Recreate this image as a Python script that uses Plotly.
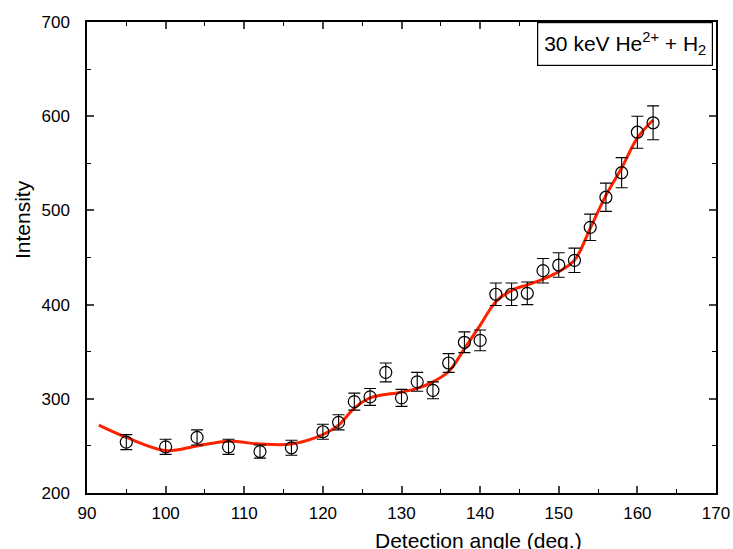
import plotly.graph_objects as go

angle = [95, 100, 104, 108, 112, 116, 120, 122, 124, 126, 128, 130, 132, 134,
         136, 138, 140, 142, 144, 146, 148, 150, 152, 154, 156, 158, 160, 162]
intensity = [254, 249, 259, 249, 244, 248, 265, 275, 297, 302, 328, 301, 318, 309,
             338, 360, 362, 411, 411, 412, 436, 442, 447, 482, 514, 540, 583, 593]
err = [8, 8, 8, 8, 7, 8, 8, 8, 9, 9, 10, 9, 10, 9,
       10, 11, 11, 12, 12, 12, 13, 13, 13, 14, 15, 16, 17, 18]

fit_x = [91.5, 95, 100, 104, 108, 112, 116, 120, 122, 124, 126, 130, 132, 134,
         136, 138, 140, 142, 144, 146, 148, 150, 152, 154, 156, 158, 160, 162]
fit_y = [272, 259, 245, 250, 255, 252, 252, 262, 272, 290, 301, 307, 311, 318,
         329, 353, 378, 403, 415, 421, 427, 435, 447, 481, 516, 545, 577, 596]

FONT = "Liberation Sans, Arial, sans-serif"

fig = go.Figure()
fig.add_trace(go.Scatter(
    x=fit_x, y=fit_y, mode="lines", line=dict(color="#ff2200", width=3, shape="spline", smoothing=1.0),
    hoverinfo="skip"))
fig.add_trace(go.Scatter(
    x=angle, y=intensity, mode="markers",
    marker=dict(symbol="circle-open", size=12, color="black", line=dict(width=1.2, color="black")),
    error_y=dict(type="data", array=err, visible=True, color="black", thickness=1.1, width=6)))

axis_font = dict(family=FONT, size=17, color="black")
fig.update_xaxes(range=[90, 170], dtick=10, tick0=90, ticks="inside", ticklen=7, tickwidth=1.5,
                 showline=True, linewidth=1.5, linecolor="black", mirror="ticks", automargin=False,
                 showgrid=False, zeroline=False, tickfont=axis_font, ticklabelstandoff=4,
                 minor=dict(dtick=5, ticks="inside", ticklen=4, tickwidth=1.2, tickcolor="black", showgrid=False))
fig.update_yaxes(range=[200, 700], dtick=100, tick0=200, ticks="inside", ticklen=7, tickwidth=1.5,
                 showline=True, linewidth=1.5, linecolor="black", mirror="ticks", automargin=False,
                 showgrid=False, zeroline=False, tickfont=axis_font, ticklabelstandoff=12,
                 minor=dict(dtick=50, ticks="inside", ticklen=4, tickwidth=1.2, tickcolor="black", showgrid=False))

fig.add_annotation(text="Detection angle (deg.)", xref="paper", yref="paper",
                   x=(478 - 87) / 629, y=(493 - 540) / 471, xanchor="center", yanchor="middle",
                   showarrow=False, font=dict(family=FONT, size=21, color="black"))
fig.add_annotation(text="Intensity", xref="paper", yref="paper", textangle=-90,
                   x=(22 - 87) / 629, y=(493 - 220) / 471, xanchor="center", yanchor="middle",
                   showarrow=False, font=dict(family=FONT, size=21, color="black"))
fig.add_annotation(text="30 keV He<sup>2+</sup> + H<sub>2</sub>", xref="paper", yref="paper",
                   x=(713 - 87) / 629, y=1.0, xanchor="right", yanchor="top",
                   showarrow=False, bordercolor="black", borderwidth=1.2, borderpad=6,
                   bgcolor="white",
                   font=dict(family=FONT, size=21, color="black"))

fig.update_layout(width=733, height=549, margin=dict(l=87, r=17, t=22, b=56),
                  plot_bgcolor="white", paper_bgcolor="white", showlegend=False)
fig.write_html("out.html")
